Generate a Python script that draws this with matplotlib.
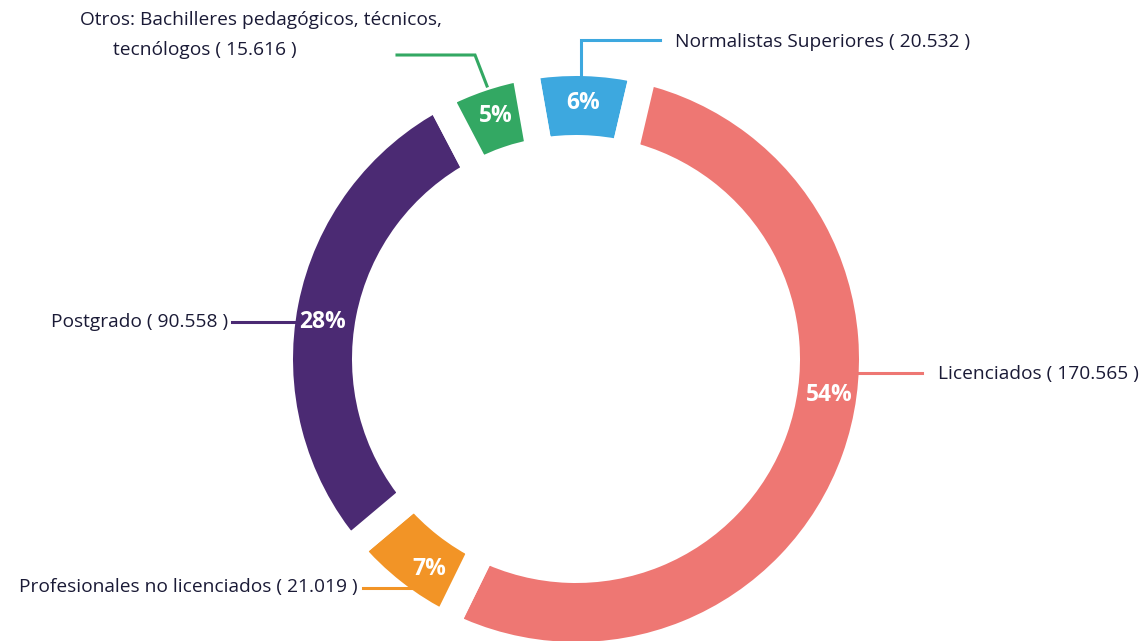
import matplotlib
matplotlib.use("Agg")
import matplotlib.pyplot as plt
import numpy as np

# ---- data ----
categories = ["Normalistas Superiores", "Licenciados", "Profesionales no licenciados",
              "Postgrado", "Otros: Bachilleres pedagógicos, técnicos, tecnólogos"]
values = [20532, 170565, 21019, 90558, 15616]
colors = ["#3DA8DF", "#EE7773", "#F29426", "#4B2A73", "#33A863"]

plt.rcParams['font.family'] = ['Open Sans', 'DejaVu Sans']
TXT = "#1a1a36"
FS = 13.8

W, H = 1147, 641
fig = plt.figure(figsize=(W / 100, H / 100), dpi=100)
ax = fig.add_axes([0, 0, 1, 1])

cx, cy = 576, H - 359
R_vis, width_vis = 283, 59
gap_px = 27
lw_pt = gap_px * 72 / 100
offset = 10.0  # degrees before 12 o'clock where the first slice begins

total = sum(values)
wedges, _ = ax.pie(values, colors=colors, startangle=90 + offset, counterclock=False,
                   center=(cx, cy), radius=R_vis + gap_px / 2, frame=True,
                   wedgeprops=dict(width=width_vis + gap_px, edgecolor="white",
                                   linewidth=lw_pt, joinstyle="miter"))

ax.set_xlim(0, W)
ax.set_ylim(0, H)
ax.set_aspect("auto")
ax.axis("off")

# percent labels
r_lab = 256
label_shift = [0, -11.5, -3.0, -2.8, 0.5]  # degrees (cw) relative to mid-angle
acc = 0
for i, v in enumerate(values):
    mid = (acc + v / 2) / total * 360 - offset + label_shift[i]
    acc += v
    th = np.deg2rad(mid)
    x = cx + r_lab * np.sin(th)
    y = cy + r_lab * np.cos(th)
    ax.text(x, y, f"{round(v / total * 100)}%", color="white", fontsize=16.5,
            fontweight="bold", ha="center", va="center")

def fmt(v):
    return f"{v:,}".replace(",", ".")

def Y(y):
    return H - y

lw = 2.2
# Normalistas
ax.plot([581, 581, 660], [Y(78), Y(40), Y(40)], color=colors[0], lw=lw,
        solid_joinstyle="miter")
ax.text(675, Y(42), f"Normalistas Superiores ( {fmt(values[0])} )", color=TXT,
        fontsize=FS, ha="left", va="center")
# Licenciados
ax.plot([857, 922], [Y(373), Y(373)], color=colors[1], lw=lw)
ax.text(938, Y(374), f"Licenciados ( {fmt(values[1])} )", color=TXT,
        fontsize=FS, ha="left", va="center")
# Profesionales
ax.plot([363, 412], [Y(588), Y(588)], color=colors[2], lw=lw)
ax.text(358, Y(587), f"Profesionales no licenciados ( {fmt(values[2])} )", color=TXT,
        fontsize=FS, ha="right", va="center")
# Postgrado
ax.plot([232, 300], [Y(322), Y(322)], color=colors[3], lw=lw)
ax.text(228, Y(322), f"Postgrado ( {fmt(values[3])} )", color=TXT,
        fontsize=FS, ha="right", va="center")
# Otros
ax.plot([397, 475, 487], [Y(55), Y(55), Y(86)], color=colors[4], lw=lw,
        solid_joinstyle="miter")
ax.text(80, Y(20), "Otros: Bachilleres pedagógicos, técnicos,", color=TXT,
        fontsize=FS, ha="left", va="center")
ax.text(113, Y(50), f"tecnólogos ( {fmt(values[4])} )", color=TXT,
        fontsize=FS, ha="left", va="center")

fig.savefig("out.png", dpi=100, facecolor="white")
